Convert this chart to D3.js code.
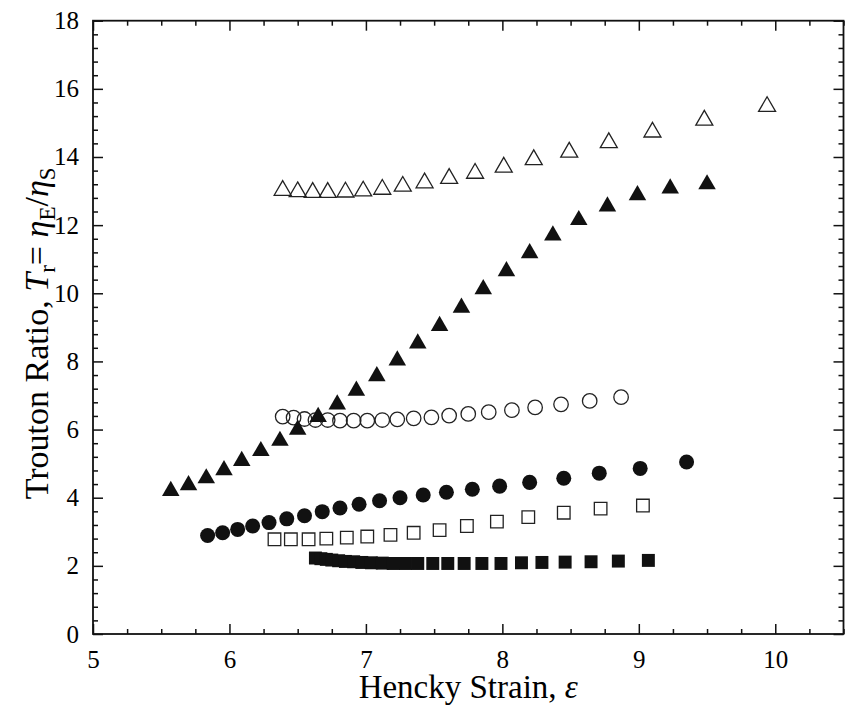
<!DOCTYPE html>
<html><head><meta charset="utf-8">
<script src="https://cdn.jsdelivr.net/npm/d3@7"></script>
<style>body{margin:0;background:#fff}svg{display:block}text{font-family:"Liberation Serif","Times New Roman",serif;fill:#000}</style>
</head><body><svg id="c" width="849" height="705"></svg>
<script>
// ---- data ----
const openTriX = [6.39,6.50,6.61,6.72,6.85,6.98,7.12,7.27,7.43,7.61,7.80,8.01,8.23,8.49,8.78,9.10,9.48,9.94];
const openTriY = [13.02,12.98,12.96,12.96,12.97,13.00,13.05,13.14,13.24,13.37,13.52,13.70,13.92,14.14,14.42,14.73,15.08,15.48];
const fillTriX = [5.57,5.70,5.83,5.96,6.09,6.23,6.37,6.50,6.65,6.79,6.93,7.08,7.23,7.38,7.54,7.70,7.86,8.03,8.20,8.37,8.56,8.77,8.99,9.23,9.50];
const fillTriY = [4.20,4.37,4.57,4.81,5.08,5.37,5.67,6.00,6.37,6.74,7.14,7.57,8.03,8.53,9.04,9.58,10.12,10.65,11.18,11.70,12.15,12.55,12.88,13.08,13.20];
const openCirX = [6.39,6.47,6.55,6.63,6.72,6.81,6.91,7.01,7.12,7.23,7.35,7.48,7.61,7.75,7.90,8.07,8.24,8.43,8.64,8.87];
const openCirY = [6.38,6.35,6.31,6.28,6.28,6.26,6.26,6.26,6.28,6.30,6.33,6.36,6.41,6.46,6.51,6.57,6.65,6.74,6.84,6.95];
const fillCirX = [5.84,5.95,6.06,6.17,6.29,6.42,6.55,6.68,6.81,6.95,7.10,7.25,7.42,7.59,7.78,7.98,8.20,8.45,8.71,9.01,9.35];
const fillCirY = [2.89,2.97,3.07,3.17,3.27,3.38,3.47,3.59,3.70,3.81,3.91,4.00,4.08,4.16,4.25,4.34,4.45,4.57,4.72,4.86,5.05];
const openSqX = [6.33,6.45,6.58,6.71,6.86,7.01,7.18,7.35,7.54,7.74,7.96,8.19,8.45,8.72,9.03];
const openSqY = [2.78,2.78,2.78,2.80,2.83,2.86,2.91,2.97,3.05,3.17,3.30,3.43,3.56,3.68,3.77];
const fillSqX = [6.63,6.67,6.71,6.75,6.80,6.85,6.91,6.97,7.04,7.12,7.20,7.29,7.38,7.49,7.60,7.72,7.85,7.99,8.14,8.29,8.46,8.65,8.85,9.07];
const fillSqY = [2.23,2.21,2.19,2.17,2.15,2.13,2.12,2.10,2.09,2.08,2.07,2.07,2.07,2.07,2.07,2.07,2.07,2.07,2.09,2.10,2.11,2.12,2.14,2.16];
const xTicks = [5,6,7,8,9,10];
const yTicks = [0,2,4,6,8,10,12,14,16,18];

// ---- chart ----
const svg = d3.select("#c");
const L=93, R=843.5, T=20.7, B=634;
const x = d3.scaleLinear([5,10.5],[L,R]);
const y = d3.scaleLinear([0,18],[B,T]);
const ink = "#111";

const xMinor = d3.range(5,10.51,0.25).filter(v=>Math.abs(v-Math.round(v))>1e-6);
const yMinor = d3.range(0,18.01,0.4).filter(v=>Math.abs(v/2-Math.round(v/2))>1e-6);

function styleAxis(g){ g.select(".domain").remove(); g.selectAll("line").attr("stroke",ink).attr("stroke-width",1.5); g.selectAll("text").attr("font-size",25).attr("fill","#000").attr("font-family","Liberation Serif, serif"); }

svg.append("g").attr("transform",`translate(0,${B})`).call(d3.axisBottom(x).tickValues(xTicks).tickSize(-10).tickPadding(16).tickFormat(d3.format("d"))).call(styleAxis);
svg.append("g").attr("transform",`translate(0,${B})`).call(d3.axisBottom(x).tickValues(xMinor).tickSize(-5).tickFormat("")).call(styleAxis);
svg.append("g").attr("transform",`translate(0,${T})`).call(d3.axisTop(x).tickValues(xTicks).tickSize(-10).tickFormat("")).call(styleAxis);
svg.append("g").attr("transform",`translate(0,${T})`).call(d3.axisTop(x).tickValues(xMinor).tickSize(-5).tickFormat("")).call(styleAxis);
svg.append("g").attr("transform",`translate(${L},0)`).call(d3.axisLeft(y).tickValues(yTicks).tickSize(-10).tickPadding(14).tickFormat(d3.format("d"))).call(styleAxis);
svg.append("g").attr("transform",`translate(${L},0)`).call(d3.axisLeft(y).tickValues(yMinor).tickSize(-5).tickFormat("")).call(styleAxis);
svg.append("g").attr("transform",`translate(${R},0)`).call(d3.axisRight(y).tickValues(yTicks).tickSize(-10).tickFormat("")).call(styleAxis);
svg.append("g").attr("transform",`translate(${R},0)`).call(d3.axisRight(y).tickValues(yMinor).tickSize(-5).tickFormat("")).call(styleAxis);

svg.append("rect").attr("x",L).attr("y",T).attr("width",R-L).attr("height",B-T).attr("fill","none").attr("stroke",ink).attr("stroke-width",1.8);

function series(xs, ys, type, size, filled){
  const sym = d3.symbol(type, size);
  svg.append("g").selectAll("path").data(xs.map((v,i)=>[v,ys[i]])).join("path")
    .attr("transform",d=>`translate(${x(d[0])},${y(d[1])})`)
    .attr("d",sym)
    .attr("fill",filled?ink:"none")
    .attr("stroke",filled?"none":"#222")
    .attr("stroke-width",1.3);
}
series(openTriX, openTriY, d3.symbolTriangle, 125, false);
series(openCirX, openCirY, d3.symbolCircle, 165, false);
series(fillTriX, fillTriY, d3.symbolTriangle, 133, true);
series(fillCirX, fillCirY, d3.symbolCircle, 177, true);
series(openSqX, openSqY, d3.symbolSquare, 158, false);
series(fillSqX, fillSqY, d3.symbolSquare, 168, true);

// axis titles
svg.append("text").attr("x",(L+R)/2).attr("y",697.5).attr("text-anchor","middle").attr("font-size",33)
  .call(t=>{ t.append("tspan").text("Hencky Strain, "); t.append("tspan").attr("font-style","italic").text("ε"); });

const yt = svg.append("text").attr("transform",`translate(48,${(T+B)/2+6}) rotate(-90)`).attr("text-anchor","middle").attr("font-size",34);
yt.append("tspan").text("Trouton Ratio, ");
yt.append("tspan").attr("font-style","italic").text("T");
yt.append("tspan").attr("font-size",23).attr("dy",7).text("r");
yt.append("tspan").attr("dy",-7).text("= ");
yt.append("tspan").attr("font-style","italic").text("η");
yt.append("tspan").attr("font-size",23).attr("dy",7).text("E");
yt.append("tspan").attr("dy",-7).text("/");
yt.append("tspan").attr("font-style","italic").text("η");
yt.append("tspan").attr("font-size",23).attr("dy",7).text("S");
</script></body></html>
